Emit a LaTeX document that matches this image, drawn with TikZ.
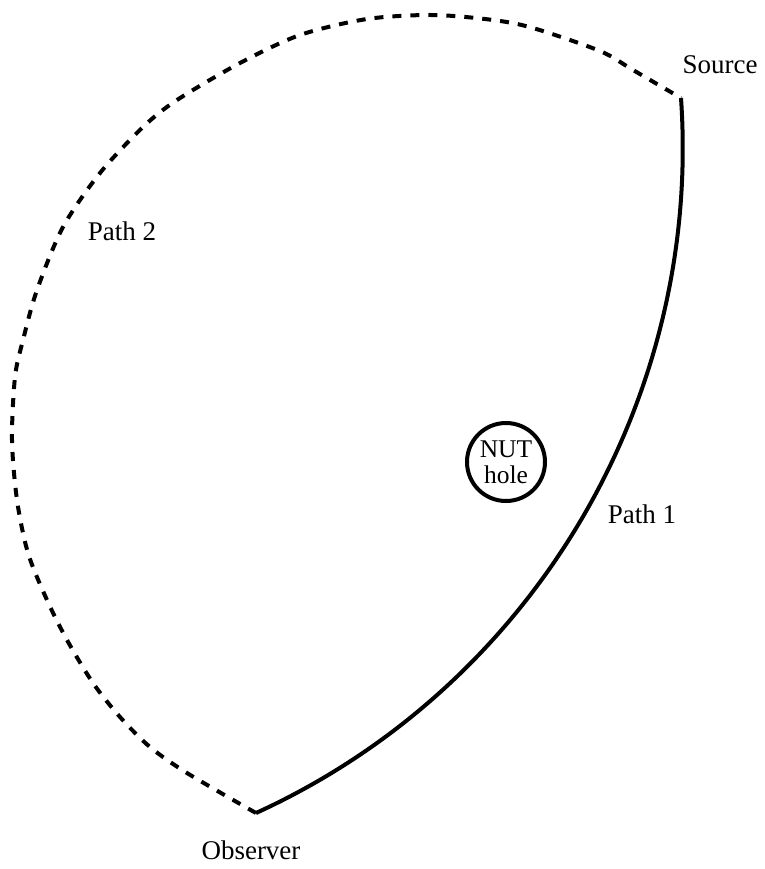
\documentclass[tikz,border=0pt]{standalone}
\usepackage{fontspec}
\setmainfont{Liberation Serif}
\begin{document}
\begin{tikzpicture}[x=0.5pt,y=-0.5pt,
		pathone/.style={line width=2pt},
		pathtwo/.style={line width=2pt,dash pattern=on 4.5pt off 4.5pt},
		lbl/.style={inner sep=0pt,anchor=base,font=\fontsize{13.5}{16}\selectfont},
		hole/.style={draw,circle,line width=2pt,minimum size=39pt,inner sep=0pt,align=center,font=\fontsize{12.75}{13}\selectfont}]
			% \draw[style=help lines,step=50] (0,0) grid (765,869);
			\useasboundingbox (0,0) rectangle (765,869);

			\coordinate (src) at (681,98);
			\coordinate (obs) at (256,813);

			% path 1 (solid), path 2 (dashed)
			\draw[pathone] (src) .. controls +(21,303) and +(276,-126) .. (obs);
			\draw[pathtwo] plot[smooth,tension=0.5] coordinates {(obs) (187,773) (150,747) (120,717) (93,683) (67,640) (47,600) (28,553) (17,500) (12,440) (15,377) (23,340) (37,290) (63,227) (100,173) (143,127) (177,100) (240,63) (300,35) (367,19) (433,15) (493,20) (533,28) (600,51) (633,70) (src)};

			\node[hole] (nut) at (506,462) {NUT\\hole};

			\node[lbl] (source) at (720,73) {Source};
			\node[lbl] (observer) at (251,859) {Observer};
			\node[lbl] (pone) at (642,523) {Path 1};
			\node[lbl] (ptwo) at (122,240) {Path 2};
		\end{tikzpicture}
\end{document}
